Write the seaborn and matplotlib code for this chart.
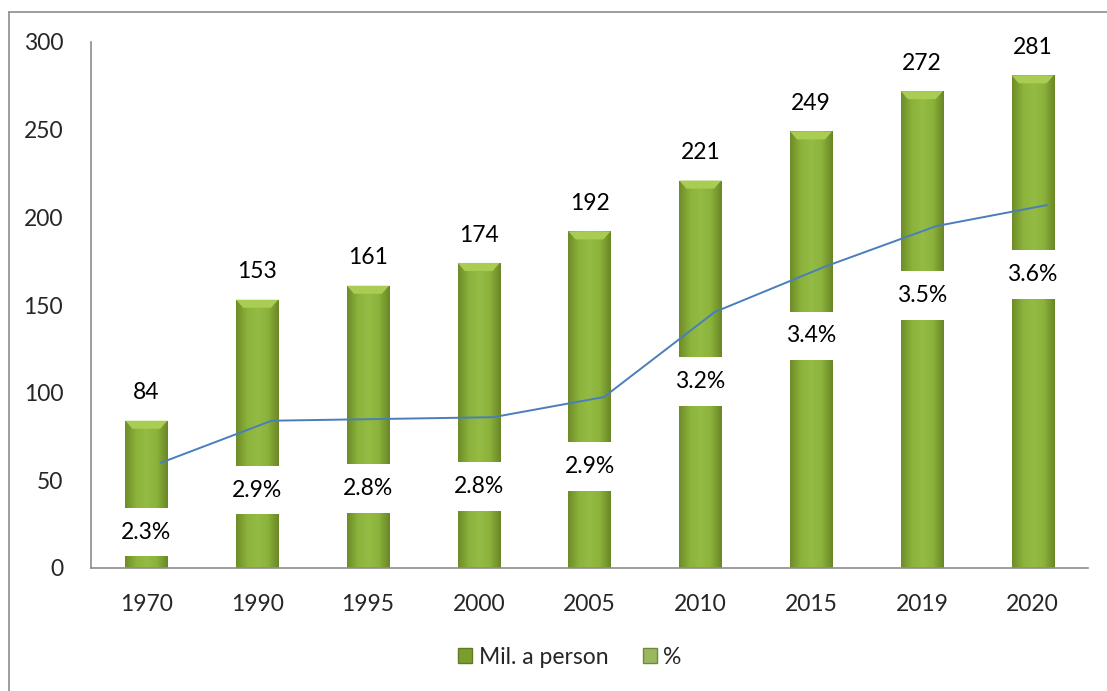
import numpy as np
import pandas as pd
import matplotlib
matplotlib.use('Agg')
import matplotlib.pyplot as plt
import seaborn as sns
from matplotlib.patches import Patch, Polygon
from matplotlib.lines import Line2D
from matplotlib.colors import LinearSegmentedColormap

years = ['1970', '1990', '1995', '2000', '2005', '2010', '2015', '2019', '2020']
mil_person = [84, 153, 161, 174, 192, 221, 249, 272, 281]
pct_labels = ['2.3%', '2.9%', '2.8%', '2.8%', '2.9%', '3.2%', '3.4%', '3.5%', '3.6%']
# level of the % line as it sits on the chart (left axis units)
pct_curve = [60, 84, 85, 86, 97.5, 146, 172, 195, 207]

sns.set_style('white')
plt.rcParams['font.family'] = ['Lato', 'DejaVu Sans']
FS = 16.5

df = pd.DataFrame({'year': years, 'mil': mil_person})

fig = plt.figure(figsize=(11.07, 6.91), dpi=100)
ax = fig.add_axes([91/1107, 123/691, 997/1107, 526/691])

sns.barplot(data=df, x='year', y='mil', color='#8db43c', width=0.38,
            saturation=1, ax=ax, zorder=2)

# cylinder-like shading + bevelled top for each bar
shade = LinearSegmentedColormap.from_list('shade', ['#6e8c28', '#8bb23b', '#94bc44', '#8bb23b', '#6a8726'])
grad = np.linspace(0, 1, 64).reshape(1, -1)
bevel_h = 4.6
for p in ax.patches:
    x0, w, h = p.get_x(), p.get_width(), p.get_height()
    p.set_edgecolor('none')
    im = ax.imshow(grad, cmap=shade, aspect='auto', extent=[x0, x0 + w, 0, h], zorder=2.1)
    im.set_clip_path(p)
    inset = w * 0.17
    top = Polygon([[x0, h], [x0 + w, h], [x0 + w - inset, h - bevel_h], [x0 + inset, h - bevel_h]],
                  closed=True, facecolor='#a9cc52', edgecolor='none', zorder=2.2)
    ax.add_patch(top)
    ax.annotate(f'{int(round(h))}', (x0 + w / 2, h), xytext=(0, 20), textcoords='offset points',
                ha='center', va='center', fontsize=FS, color='black')

xs = np.arange(len(years))
ax.plot(xs + 0.13, pct_curve, color='#4a7ebb', lw=1.4, zorder=3)

for i, lab in enumerate(pct_labels):
    ax.annotate(lab, (xs[i], pct_curve[i]), xytext=(0, -50), textcoords='offset points',
                ha='center', va='center', fontsize=FS, color='black', zorder=4,
                bbox=dict(boxstyle='square,pad=0.6', facecolor='white', edgecolor='none'))

ax.set_xlim(-0.5, len(years) - 0.5)
ax.set_ylim(0, 300)
ax.set_yticks(range(0, 301, 50))
ax.set_xlabel('')
ax.set_ylabel('')
ax.tick_params(axis='y', labelsize=FS, length=0, pad=20)
ax.tick_params(axis='x', labelsize=FS, length=0, pad=19)
for s in ['top', 'right']:
    ax.spines[s].set_visible(False)
for s in ['left', 'bottom']:
    ax.spines[s].set_color('#8c8c8c')
    ax.spines[s].set_linewidth(1.2)

handles = [Patch(facecolor='#7a9e2e', edgecolor='#5f7a20'),
           Patch(facecolor='#9ab760', edgecolor='#6f8a3a')]
fig.legend(handles, ['Mil. a person', '%'], loc='center', bbox_to_anchor=(570/1107, 1 - 657/691),
           ncol=2, frameon=False, fontsize=FS, handlelength=0.6, handleheight=0.6,
           handletextpad=0.3, columnspacing=1.5)

# outer chart frame
fig.add_artist(Line2D([9/1107, 1.0], [1 - 12/691, 1 - 12/691], color='#8c8c8c', lw=1.2))
fig.add_artist(Line2D([9/1107, 9/1107], [0, 1 - 12/691], color='#8c8c8c', lw=1.2))

fig.savefig('out.png', dpi=100)
